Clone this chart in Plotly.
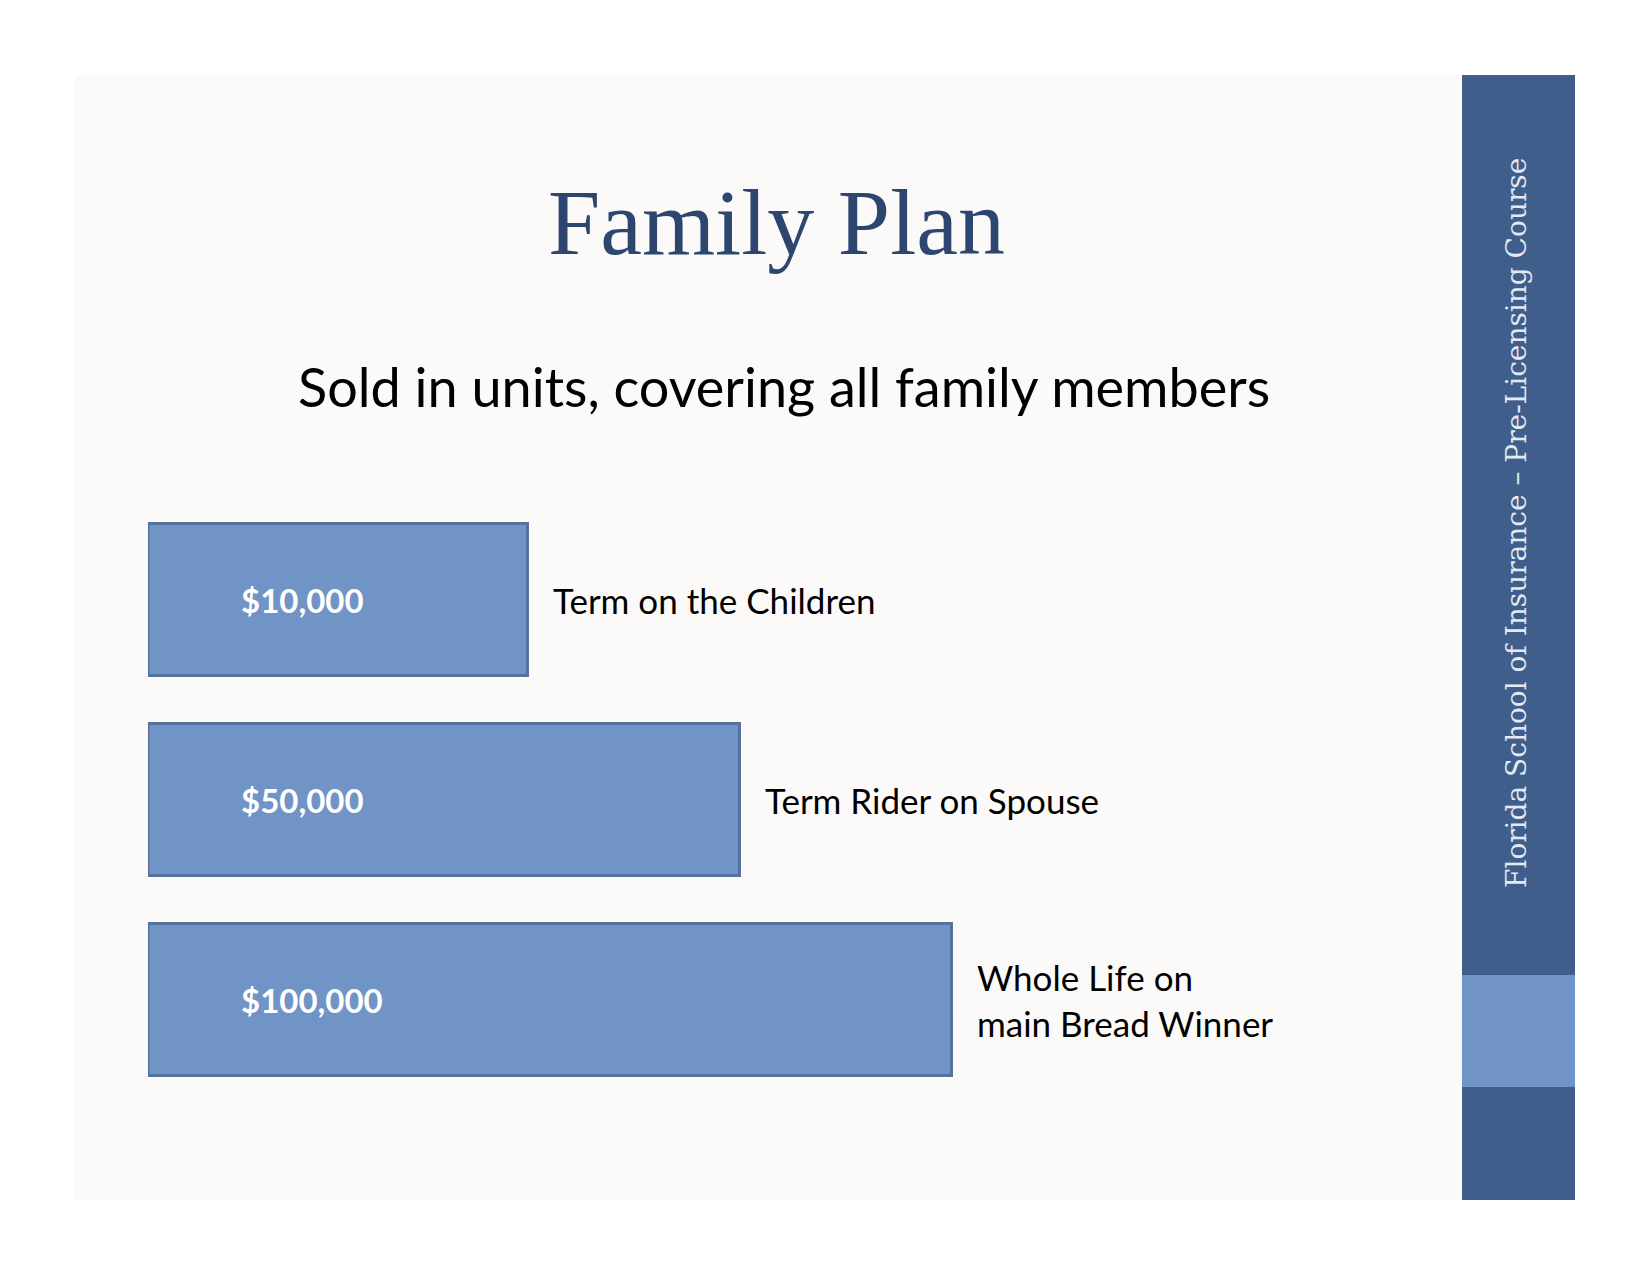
import plotly.graph_objects as go

# ---- data ----
coverage_labels = ["$10,000", "$50,000", "$100,000"]
descriptions = ["Term on the Children", "Term Rider on Spouse", "Whole Life on<br>main Bread Winner"]
bar_lengths = [1.79, 2.79, 3.79]   # relative display length of each block (staircase)
categories = ["children", "spouse", "breadwinner"]

title_text = "Family Plan"
subtitle_text = "Sold in units, covering all family members"
sidebar_text = "Florida School of Insurance \u2013 Pre-Licensing Course"

W, H = 1650, 1275
SANS = "Lato, 'Open Sans', sans-serif"
SERIF = "'Liberation Serif', 'DejaVu Serif', serif"
SERIF2 = "'DejaVu Serif', serif"

BAR_FILL = "#7094C6"
BAR_EDGE = "#55729E"
DARK = "#3F5E8C"

x_dom_px = (148, 1462)
px_per_unit = 212.0
x_range = [0, (x_dom_px[1] - x_dom_px[0]) / px_per_unit]
y_top_px, y_bot_px = 499.5, 1099.5

fig = go.Figure()
fig.add_trace(go.Bar(
    y=categories, x=bar_lengths, orientation="h",
    marker=dict(color=BAR_FILL, line=dict(color=BAR_EDGE, width=3)),
    hoverinfo="skip", showlegend=False,
))

annotations = []
for cat, val, lab, desc in zip(categories, bar_lengths, coverage_labels, descriptions):
    annotations.append(dict(x=0.43, y=cat, xref="x", yref="y", text="<b>" + lab + "</b>",
                            showarrow=False, xanchor="left", yanchor="middle",
                            font=dict(family=SANS, size=33, color="white")))
    annotations.append(dict(x=val, y=cat, xref="x", yref="y", text=desc, xshift=24,
                            showarrow=False, xanchor="left", yanchor="middle", align="left",
                            font=dict(family=SANS, size=35, color="black")))

# title, subtitle, sidebar text
annotations.append(dict(x=776 / W, y=1 - 222 / H, xref="paper", yref="paper", text=title_text,
                        showarrow=False, xanchor="center", yanchor="middle",
                        font=dict(family=SERIF, size=94, color="#2C4670")))
annotations.append(dict(x=784 / W, y=1 - 386 / H, xref="paper", yref="paper", text=subtitle_text,
                        showarrow=False, xanchor="center", yanchor="middle",
                        font=dict(family=SANS, size=54, color="black")))
annotations.append(dict(x=1516 / W, y=1 - 523 / H, xref="paper", yref="paper", text=sidebar_text,
                        showarrow=False, xanchor="center", yanchor="middle", textangle=-90,
                        font=dict(family=SERIF2, size=28, color="#E4E8F0")))

shapes = [
    dict(type="rect", xref="paper", yref="paper", x0=75 / W, x1=1462 / W, y0=1 - 1200 / H, y1=1 - 75 / H,
         fillcolor="#FBFAF9", line=dict(width=0), layer="below"),
    dict(type="rect", xref="paper", yref="paper", x0=1462 / W, x1=1575 / W, y0=1 - 1200 / H, y1=1 - 75 / H,
         fillcolor=DARK, line=dict(width=0), layer="below"),
    dict(type="rect", xref="paper", yref="paper", x0=1462 / W, x1=1575 / W, y0=1 - 1087 / H, y1=1 - 975 / H,
         fillcolor=BAR_FILL, line=dict(width=0), layer="below"),
]

fig.update_layout(
    width=W, height=H, margin=dict(l=0, r=0, t=0, b=0),
    paper_bgcolor="white", plot_bgcolor="rgba(0,0,0,0)",
    bargap=0.24,
    xaxis=dict(domain=[x_dom_px[0] / W, x_dom_px[1] / W], range=x_range, visible=False, fixedrange=True),
    yaxis=dict(domain=[1 - y_bot_px / H, 1 - y_top_px / H], range=[2.5, -0.5], visible=False,
               type="category", categoryorder="array", categoryarray=categories, fixedrange=True),
    annotations=annotations, shapes=shapes,
)

fig.write_html("out.html")
